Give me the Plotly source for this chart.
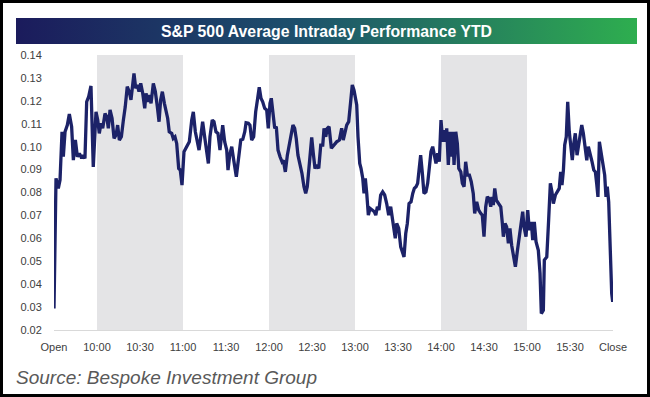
import plotly.graph_objects as go

# ---- data ----
tick_minutes = [0, 30, 60, 90, 120, 150, 180, 210, 240, 270, 300, 330, 360, 390]
tick_labels = ["Open", "10:00", "10:30", "11:00", "11:30", "12:00", "12:30",
               "13:00", "13:30", "14:00", "14:30", "15:00", "15:30", "Close"]
shaded_hours = [(30, 90), (150, 210), (270, 330)]  # 10-11, 12-13, 14-15

minutes = [
    0, 1.4, 3.0, 4.2, 5.6, 6.5, 7.7, 9.3, 10.7, 12.3, 13.5, 14.9, 16.3, 17.7, 19.3,
    20.4, 21.6, 22.8, 24.2, 25.8, 27.4, 29.3, 30.5, 31.6, 32.8, 34.0, 35.6, 36.8,
    37.9, 39.1, 40.5, 41.9, 43.3, 44.4, 45.6, 47.0, 48.4, 49.7, 51.1, 52.5, 53.7,
    54.9, 55.8, 57.0, 58.1, 59.3, 60.5, 61.9, 63.3, 64.2, 65.4, 66.5, 67.7, 69.3,
    70.7, 72.1, 73.3, 74.4, 75.6, 77.0, 78.1, 79.3, 80.4, 82.1, 83.2, 84.4, 85.6,
    87.0, 88.1, 89.3, 90.7, 92.6, 94.4, 96.1, 97.2, 98.6, 100.0, 101.2, 102.4,
    103.7, 105.1, 106.5, 107.7, 108.8, 110.4, 111.6, 113.0, 114.4, 115.8, 117.7,
    119.1, 120.5, 121.4, 122.6, 124.0, 125.4, 127.2, 128.9, 130.3, 131.7, 133.1,
    134.0, 135.6, 136.7, 137.9, 139.3, 140.7, 142.1, 143.2, 144.4, 145.6, 147.0,
    148.4, 149.5, 150.7, 151.6, 152.8, 154.0, 155.1, 156.3, 157.7, 159.1, 160.0,
    161.4, 162.8, 164.2, 165.6, 166.7, 167.9, 169.0, 170.2, 171.6, 173.0, 174.4,
    175.6, 176.7, 178.1, 179.8, 180.9, 182.1, 183.3, 184.7, 186.1, 187.5, 188.4,
    189.6, 190.7, 191.9, 193.5, 195.4, 197.2, 199.1, 200.7, 201.8, 203.0, 204.2,
    205.6, 207.0, 208.1, 209.3, 210.5, 211.2, 212.1, 213.3, 214.2, 215.4, 216.3,
    217.2, 218.2, 219.3, 220.5, 222.1, 223.5, 224.5, 225.6, 226.7, 227.9, 229.3,
    230.7, 232.1, 233.5, 234.9, 236.0, 237.2, 238.1, 239.1, 240.5, 241.9, 243.0,
    244.2, 245.4, 246.5, 247.7, 249.1, 250.3, 251.4, 252.6, 253.7, 254.7, 255.8,
    257.0, 258.1, 259.5, 260.7, 261.8, 263.0, 264.2, 265.3, 266.5, 267.7, 268.8,
    270.0, 271.2, 272.3, 273.3, 274.0, 275.1, 276.3, 277.2, 278.2, 279.1, 280.3,
    281.4, 282.4, 283.8, 284.9, 286.1, 287.2, 288.4, 289.8, 291.1, 292.5, 293.5,
    294.9, 296.3, 297.7, 298.8, 300.0, 301.2, 302.3, 303.5, 304.7, 305.6, 306.5,
    307.5, 308.6, 310.0, 311.7, 312.8, 313.5, 314.7, 315.8, 317.0, 318.1, 319.3,
    320.5, 321.9, 323.2, 324.6, 325.8, 327.0, 327.9, 329.3, 330.5, 331.6, 333.0,
    334.0, 335.1, 336.3, 337.9, 339.1, 340.0, 341.4, 342.1, 343.8, 345.1, 346.3,
    347.4, 348.4, 349.8, 351.2, 352.5, 353.5, 354.4, 355.4, 356.3, 357.4, 358.4,
    359.5, 360.7, 361.6, 362.8, 363.7, 364.9, 366.1, 367.2, 368.2, 369.3, 370.5,
    371.7, 372.8, 374.2, 375.4, 376.6, 377.7, 378.6, 379.5, 380.5, 381.8, 383.0,
    384.2, 385.1, 386.0, 387.0, 387.9, 389.1, 389.8, 390.0,
]

performance = [
    0.0294, 0.0862, 0.0818, 0.0854, 0.1065, 0.0956, 0.1065, 0.1094, 0.1142, 0.1087,
    0.0941, 0.1029, 0.0956, 0.0971, 0.0949, 0.0963, 0.0949, 0.1196, 0.1218, 0.1265,
    0.0912, 0.1152, 0.1116, 0.1058, 0.1102, 0.1080, 0.1145, 0.1131, 0.1080, 0.1160,
    0.1124, 0.1036, 0.1051, 0.1094, 0.1029, 0.1043, 0.1116, 0.1174, 0.1262, 0.1240,
    0.1204, 0.1276, 0.1320, 0.1255, 0.1269, 0.1240, 0.1276, 0.1233, 0.1167, 0.1233,
    0.1196, 0.1225, 0.1189, 0.1276, 0.1240, 0.1174, 0.1109, 0.1204, 0.1240, 0.1189,
    0.1160, 0.1124, 0.1065, 0.1058, 0.1036, 0.1043, 0.1014, 0.0905, 0.0898, 0.0832,
    0.0978, 0.0997, 0.1021, 0.1116, 0.1152, 0.1065, 0.1029, 0.0985, 0.1043, 0.1109,
    0.1043, 0.0985, 0.0927, 0.1043, 0.1116, 0.1109, 0.1065, 0.1058, 0.0985, 0.1094,
    0.1021, 0.0985, 0.0898, 0.0963, 0.1000, 0.0941, 0.0869, 0.0956, 0.1029, 0.1032,
    0.1065, 0.1104, 0.1102, 0.1094, 0.1029, 0.1043, 0.1152, 0.1211, 0.1259, 0.1211,
    0.1196, 0.1167, 0.1160, 0.1080, 0.1189, 0.1211, 0.1152, 0.1080, 0.1087, 0.0985,
    0.0956, 0.0934, 0.0941, 0.0890, 0.0963, 0.1007, 0.1065, 0.1094, 0.1080, 0.1036,
    0.0963, 0.0927, 0.0883, 0.0825, 0.0796, 0.0825, 0.0927, 0.1040, 0.0971, 0.0905,
    0.0920, 0.0905, 0.1007, 0.1007, 0.1080, 0.1043, 0.1080, 0.1087, 0.0993, 0.1007,
    0.1021, 0.1029, 0.1080, 0.1029, 0.1065, 0.1094, 0.1109, 0.1204, 0.1269, 0.1247,
    0.1189, 0.1182, 0.1043, 0.0927, 0.0905, 0.0862, 0.0796, 0.0862, 0.0796, 0.0701,
    0.0731, 0.0723, 0.0716, 0.0701, 0.0738, 0.0723, 0.0789, 0.0803, 0.0789, 0.0752,
    0.0701, 0.0738, 0.0694, 0.0636, 0.0600, 0.0665, 0.0643, 0.0563, 0.0541, 0.0519,
    0.0621, 0.0665, 0.0752, 0.0759, 0.0796, 0.0818, 0.0825, 0.0840, 0.0898, 0.0963,
    0.0883, 0.0796, 0.0803, 0.0840, 0.0905, 0.0978, 0.1000, 0.0963, 0.0927, 0.0971,
    0.0934, 0.1116, 0.1021, 0.1072, 0.1021, 0.1080, 0.0920, 0.1065, 0.0956, 0.1065,
    0.0920, 0.1065, 0.1014, 0.0905, 0.0890, 0.0840, 0.0825, 0.0934, 0.0876, 0.0876,
    0.0847, 0.0796, 0.0709, 0.0759, 0.0723, 0.0709, 0.0701, 0.0607, 0.0738, 0.0781,
    0.0774, 0.0738, 0.0781, 0.0745, 0.0818, 0.0767, 0.0752, 0.0738, 0.0665, 0.0607,
    0.0665, 0.0650, 0.0578, 0.0643, 0.0570, 0.0534, 0.0476, 0.0541, 0.0607, 0.0658,
    0.0716, 0.0650, 0.0607, 0.0723, 0.0636, 0.0672, 0.0592, 0.0672, 0.0585, 0.0548,
    0.0447, 0.0272, 0.0286, 0.0505, 0.0519, 0.0680, 0.0840, 0.0803, 0.0752, 0.0789,
    0.0803, 0.0818, 0.0890, 0.0832, 0.0898, 0.1007, 0.1043, 0.1196, 0.1065, 0.1007,
    0.0941, 0.1021, 0.1058, 0.0963, 0.1007, 0.1051, 0.1094, 0.1058, 0.0985, 0.0941,
    0.1000, 0.0971, 0.0934, 0.0898, 0.0890, 0.0840, 0.0781, 0.1021, 0.0963, 0.0920,
    0.0876, 0.0781, 0.0825, 0.0759, 0.0563, 0.0359, 0.0323, 0.0340,
]

y_ticks = [0.02, 0.03, 0.04, 0.05, 0.06, 0.07, 0.08, 0.09, 0.10, 0.11, 0.12, 0.13, 0.14]
title_text = "S&P 500 Average Intraday Performance YTD"
source_text = "Source: Bespoke Investment Group"

# ---- layout geometry (pixels of a 650x397 canvas) ----
W, H = 650, 397
def px_x(x):
    return x / W
def px_y(y):
    return (H - y) / H

fig = go.Figure()

# gradient title banner on its own hidden axes
fig.add_trace(go.Scatter(
    x=[0, 1, 1, 0, 0], y=[0, 0, 1, 1, 0],
    mode="lines", line=dict(width=0), fill="toself",
    fillgradient=dict(type="horizontal",
                      colorscale=[[0, "#1b1b5c"], [0.45, "#1d4f6c"], [1, "#2eae4f"]]),
    xaxis="x2", yaxis="y2", hoverinfo="skip", showlegend=False,
))

# main line
fig.add_trace(go.Scatter(
    x=minutes, y=performance, mode="lines",
    line=dict(color="#1c2268", width=3.3),
    showlegend=False, hoverinfo="x+y",
))

# shaded hours
for x0, x1 in shaded_hours:
    fig.add_shape(type="rect", xref="x", yref="y", x0=x0, x1=x1,
                  y0=y_ticks[0], y1=y_ticks[-1],
                  fillcolor="#e4e4e6", line=dict(width=0), layer="below")

# outer black border
fig.add_shape(type="rect", xref="paper", yref="paper", x0=0, x1=1, y0=0, y1=1,
              line=dict(color="#000000", width=6), fillcolor="rgba(0,0,0,0)")

fig.add_annotation(text="<b>" + title_text + "</b>", xref="paper", yref="paper",
                   x=px_x(326.5), y=px_y(31), xanchor="center", yanchor="middle",
                   showarrow=False,
                   font=dict(family="Liberation Sans", size=15.8, color="#ffffff"))

fig.add_annotation(text="<i>" + source_text + "</i>", xref="paper", yref="paper",
                   x=px_x(14), y=px_y(377), xanchor="left", yanchor="middle",
                   showarrow=False,
                   font=dict(family="Liberation Sans", size=19, color="#595959"))

fig.update_layout(
    width=W, height=H,
    margin=dict(l=0, r=0, t=0, b=0, autoexpand=False),
    paper_bgcolor="#ffffff", plot_bgcolor="#ffffff",
    font=dict(family="Liberation Sans", size=11, color="#404040"),
    xaxis=dict(domain=[px_x(54), px_x(613)], range=[0, 390], automargin=False,
               tickmode="array", tickvals=tick_minutes, ticktext=tick_labels,
               showgrid=False, zeroline=False, showline=True,
               linecolor="#d9d9d9", linewidth=1,
               ticks="outside", ticklen=7, tickcolor="rgba(0,0,0,0)",
               tickfont=dict(size=11, color="#404040"), fixedrange=True),
    yaxis=dict(domain=[px_y(330), px_y(55)], range=[0.02, 0.14], automargin=False,
               tickmode="array", tickvals=y_ticks,
               tickformat=".2f", showgrid=False, zeroline=False, showline=False,
               ticks="outside", ticklen=9, tickcolor="rgba(0,0,0,0)",
               tickfont=dict(size=11, color="#404040"), fixedrange=True),
    xaxis2=dict(domain=[px_x(16), px_x(637)], range=[0, 1], visible=False,
                automargin=False, anchor="y2", fixedrange=True),
    yaxis2=dict(domain=[px_y(44), px_y(18)], range=[0, 1], visible=False,
                automargin=False, anchor="x2", fixedrange=True),
)

fig.write_html("out.html",
               config={"displayModeBar": False},
               post_script="document.body.style.margin='0';document.body.style.overflow='hidden';")
